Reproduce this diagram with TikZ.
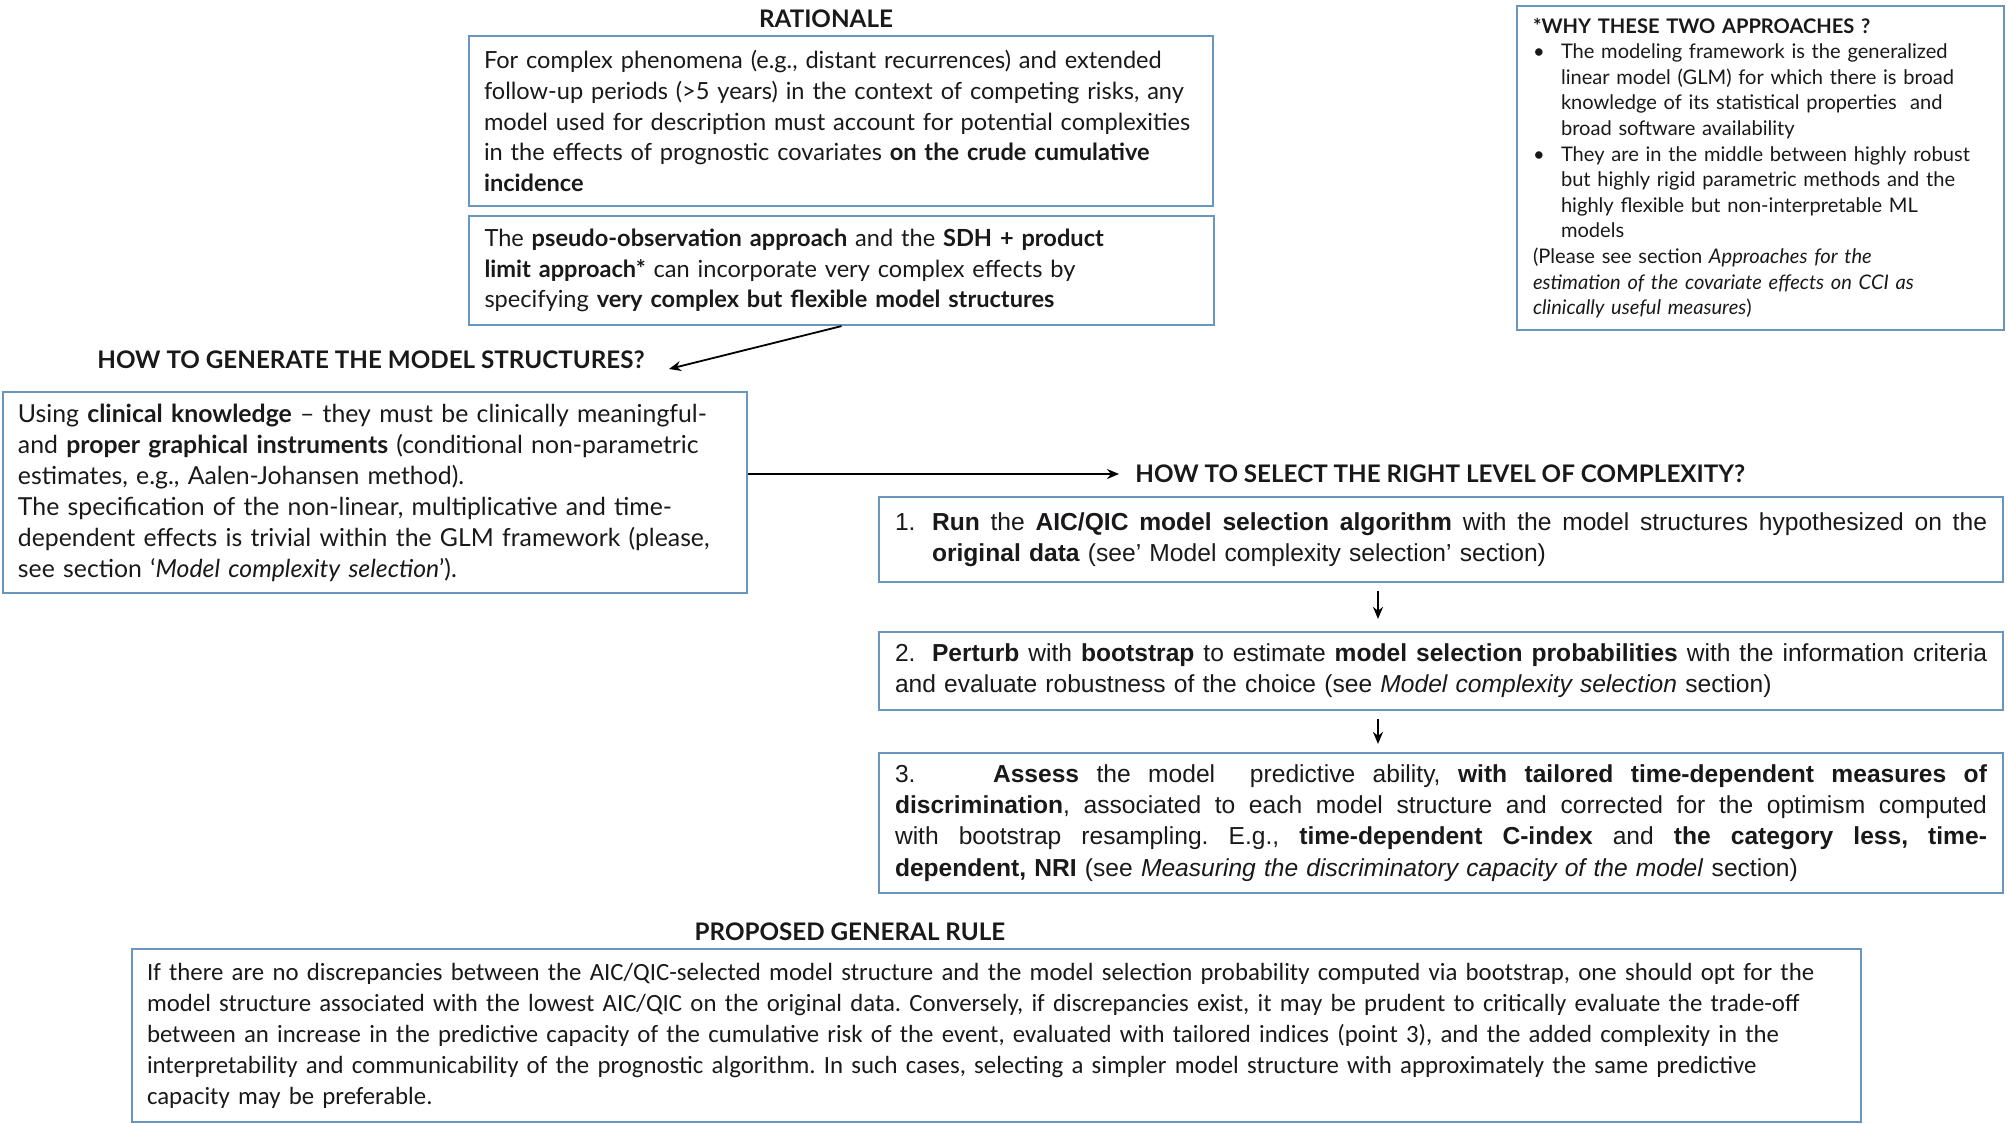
\documentclass[tikz,border=0pt]{standalone}
\usepackage{fontspec}
\setmainfont{Lato}
\newfontfamily\calib{Carlito}
\newfontfamily\arialf{Liberation Sans}
\usetikzlibrary{arrows.meta,calc}
\definecolor{boxc}{RGB}{105,150,190}
\definecolor{txt}{RGB}{25,25,25}
\newcommand{\jline}[1]{\leavevmode\hbox to 546pt{\spaceskip=0.278em plus 1fil\relax #1}}
\begin{document}
\frenchspacing
\begin{tikzpicture}[x=0.5pt,y=-0.5pt,
  box/.style={draw=boxc, line width=1.1pt, rectangle, inner sep=0pt, align=left, text=txt,
    font=\fontsize{11.8}{15.4}\selectfont},
  genbox/.style={box, font=\fontsize{12.4}{15.5}\selectfont},
  stepbox/.style={box, font=\arialf\fontsize{12.3}{15.6}\selectfont},
  rulebox/.style={box, font=\calib\fontsize{12.4}{15.5}\selectfont},
  whybox/.style={box, font=\fontsize{10.05}{12.8}\selectfont},
  ttl/.style={font=\bfseries\fontsize{12.1}{14}\selectfont, text=txt, inner sep=0pt},
  arr/.style={-{Stealth[length=6pt,width=5pt]}, line width=0.9pt, black}]
\useasboundingbox (0,0) rectangle (2008,1124);

% titles
\node[ttl] (rtitle) at (826,19) {RATIONALE};
\node[ttl] (gtitle) at (371,360) {HOW TO GENERATE THE MODEL STRUCTURES?};
\node[ttl, anchor=west] (stitle) at (1135,474) {HOW TO SELECT THE RIGHT LEVEL OF COMPLEXITY?};
\node[ttl] (ptitle) at (850,932) {PROPOSED GENERAL RULE};

% rationale boxes
\node[box, minimum width=372pt, minimum height=85pt, text width=357pt] (rat) at (841,121) {%
For complex phenomena (e.g., distant recurrences) and extended\\
follow-up periods (>5 years) in the context of competing risks, any\\
model used for description must account for potential complexities\\
in the effects of prognostic covariates \textbf{on the crude cumulative}\\
\textbf{incidence}};

\node[box, minimum width=372.5pt, minimum height=54.5pt, text width=357pt] (pseudo) at (841.5,270.5) {%
The \textbf{pseudo-observation approach} and the \textbf{SDH + product}\\
\textbf{limit approach*} can incorporate very complex effects by\\
specifying \textbf{very complex but flexible model structures}};

% why box
\node[whybox, minimum width=243.5pt, minimum height=162pt, text width=227.5pt] (why) at (1760.5,168) {%
\textbf{*WHY THESE TWO APPROACHES ?}\\
\makebox[14pt][l]{\textbullet}The modeling framework is the generalized\\
\hspace*{14pt}linear model (GLM) for which there is broad\\
\hspace*{14pt}knowledge of its statistical properties\ \ and\\
\hspace*{14pt}broad software availability\\
\makebox[14pt][l]{\textbullet}They are in the middle between highly robust\\
\hspace*{14pt}but highly rigid parametric methods and the\\
\hspace*{14pt}highly flexible but non-interpretable ML\\
\hspace*{14pt}models\\
(Please see section \textit{Approaches for the}\\
\textit{estimation of the covariate effects on CCI as}\\
\textit{clinically useful measures})};

% generate box
\node[genbox, minimum width=372pt, minimum height=100.5pt, text width=357pt] (gen) at (375,492.5) {%
Using \textbf{clinical knowledge} -- they must be clinically meaningful-\\
and \textbf{proper graphical instruments} (conditional non-parametric\\
estimates, e.g., Aalen-Johansen method).\\
The specification of the non-linear, multiplicative and time-\\
dependent effects is trivial within the GLM framework (please,\\
see section `\textit{Model complexity selection}').};

% steps
\node[stepbox, minimum width=562pt, minimum height=42.5pt, text width=546pt] (s1) at (1441,539.5) {%
\jline{\makebox[18.5pt][l]{1.}\textbf{Run} the \textbf{AIC/QIC model selection algorithm} with the model structures hypothesized on the}\\
\hspace*{18.5pt}\textbf{original data} (see’ Model complexity selection’ section)};

\node[stepbox, minimum width=562pt, minimum height=39pt, text width=546pt] (s2) at (1441,671) {%
\jline{\makebox[18.5pt][l]{2.}\textbf{Perturb} with \textbf{bootstrap} to estimate \textbf{model selection probabilities} with the information criteria}\\
and evaluate robustness of the choice (see \textit{Model complexity selection} section)};

\node[stepbox, minimum width=562pt, minimum height=70pt, text width=546pt] (s3) at (1441,823) {%
\jline{\makebox[49pt][l]{3.}\textbf{Assess} the model\ \ predictive ability, \textbf{with tailored time-dependent measures of}}\\
\jline{\textbf{discrimination}, associated to each model structure and corrected for the optimism computed}\\
\jline{with bootstrap resampling. E.g., \textbf{time-dependent C-index} and \textbf{the category less, time-}}\\
\textbf{dependent, NRI} (see \textit{Measuring the discriminatory capacity of the model} section)};

% rule
\node[rulebox, minimum width=864.5pt, minimum height=86.5pt, text width=849.5pt] (rule) at (996.5,1035.5) {%
If there are no discrepancies between the AIC/QIC-selected model structure and the model selection probability computed via bootstrap, one should opt for the\\
model structure associated with the lowest AIC/QIC on the original data. Conversely, if discrepancies exist, it may be prudent to critically evaluate the trade-off\\
between an increase in the predictive capacity of the cumulative risk of the event, evaluated with tailored indices (point 3), and the added complexity in the\\
interpretability and communicability of the prognostic algorithm. In such cases, selecting a simpler model structure with approximately the same predictive\\
capacity may be preferable.};

% connectors
\coordinate (gend) at ([xshift=12pt,yshift=-4.5pt]gtitle.east);
\draw[arr] (pseudo.south) -- (gend);
\draw[arr] (gen.east |- stitle.west) -- ([xshift=-8pt]stitle.west);
\draw[arr] ([xshift=-31.5pt,yshift=-4pt]s1.south) -- ([xshift=-31.5pt,yshift=6pt]s2.north);
\draw[arr] ([xshift=-31.5pt,yshift=-4pt]s2.south) -- ([xshift=-31.5pt,yshift=4pt]s3.north);
\end{tikzpicture}
\end{document}
